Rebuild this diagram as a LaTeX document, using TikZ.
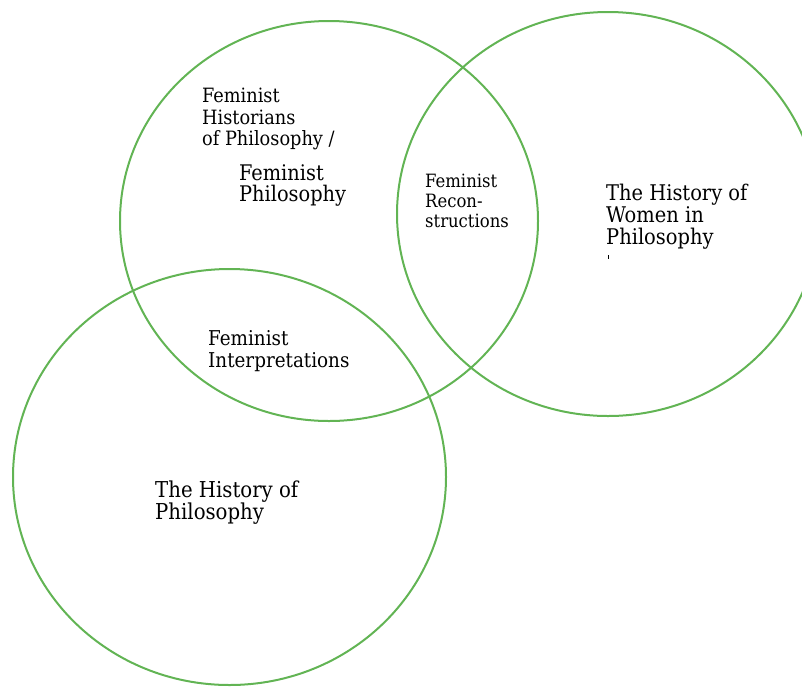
\documentclass[tikz,border=0pt]{standalone}
\usepackage{fontspec}
\setmainfont{DejaVu Serif Condensed}
\definecolor{venngreen}{RGB}{98,180,84}
\begin{document}
\begin{tikzpicture}[x=1pt,y=-1pt,
    ring/.style={venngreen,line width=2pt},
    lbl/.style={anchor=base west,align=left,inner sep=0pt}]
  \useasboundingbox (0,0) rectangle (802,686);
  %cerchi
  \draw[ring] (329,221) ellipse [x radius=209,y radius=200];
  \draw[ring] (608,214) ellipse [x radius=211,y radius=202];
  \draw[ring] (229.5,477) ellipse [x radius=216.5,y radius=208];
  %etichette (base = ultima riga)
  \node[lbl,font=\fontsize{19.7}{21.5}\selectfont] (historians) at (202,145.7) {Feminist\\Historians\\of Philosophy /};
  \node[lbl,font=\fontsize{21.5}{21}\selectfont] (femphil) at (239,201.7) {Feminist\\Philosophy};
  \node[lbl,font=\fontsize{18.3}{20}\selectfont] (recon) at (425,227) {Feminist\\Recon-\\structions};
  \node[lbl,font=\fontsize{21.6}{22}\selectfont] (women) at (606,244) {The History of\\Women in\\Philosophy};
  \node[lbl,font=\fontsize{20.4}{22}\selectfont] (interp) at (208,367) {Feminist\\Interpretations};
  \node[lbl,font=\fontsize{21.9}{22}\selectfont] (histphil) at (155,519) {The History of\\Philosophy};
  \draw[line width=0.8pt] (608.5,255) -- (608.5,259);
\end{tikzpicture}
\end{document}
